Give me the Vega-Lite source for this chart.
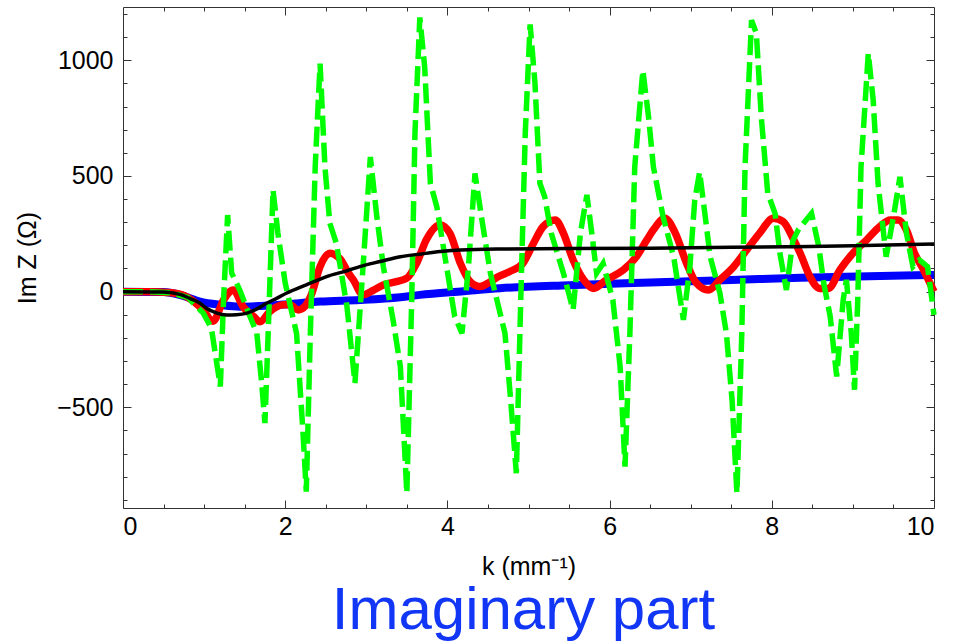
{
  "$schema": "https://vega.github.io/schema/vega-lite/v6.json",
  "width": 811,
  "height": 501,
  "autosize": {"type": "none"},
  "padding": {"left": 123, "top": 7, "right": 34, "bottom": 135},
  "background": "white",
  "config": {
    "view": {"stroke": "#333", "strokeWidth": 1},
    "font": "Liberation Sans",
    "axis": {"domain": false, "grid": false, "tickColor": "#333", "tickWidth": 1}
  },
  "title": {
    "text": "Imaginary part",
    "orient": "bottom",
    "anchor": "middle",
    "font": "Liberation Sans",
    "fontSize": 60,
    "fontWeight": "normal",
    "color": "#1236f5",
    "offset": 3,
    "dx": -5
  },
  "datasets": {
    "blue": [
      {"k": 0, "v": 0}, {"k": 0.5, "v": -2}, {"k": 0.7, "v": -14}, {"k": 0.95, "v": -43},
      {"k": 1.2, "v": -57}, {"k": 1.44, "v": -65}, {"k": 1.7, "v": -62}, {"k": 1.94, "v": -57},
      {"k": 2.43, "v": -43}, {"k": 2.92, "v": -36}, {"k": 3.42, "v": -24}, {"k": 3.66, "v": -14},
      {"k": 4.2, "v": 2}, {"k": 4.65, "v": 15}, {"k": 5.5, "v": 28}, {"k": 6.5, "v": 39},
      {"k": 7.5, "v": 50}, {"k": 8.35, "v": 60}, {"k": 9.2, "v": 67}, {"k": 10, "v": 72}
    ],
    "red": [
      {"k": 0, "v": 0}, {"k": 0.3, "v": 0}, {"k": 0.6, "v": -5}, {"k": 0.8, "v": -25},
      {"k": 0.99, "v": -80}, {"k": 1.11, "v": -128}, {"k": 1.24, "v": -36}, {"k": 1.36, "v": 7},
      {"k": 1.48, "v": -65}, {"k": 1.61, "v": -107}, {"k": 1.69, "v": -130}, {"k": 1.81, "v": -86},
      {"k": 1.98, "v": -57}, {"k": 2.06, "v": -57}, {"k": 2.16, "v": -79}, {"k": 2.24, "v": -65},
      {"k": 2.33, "v": -6}, {"k": 2.43, "v": 108}, {"k": 2.55, "v": 166}, {"k": 2.68, "v": 140},
      {"k": 2.78, "v": 80}, {"k": 2.84, "v": 51}, {"k": 2.96, "v": -14}, {"k": 3.09, "v": 7},
      {"k": 3.21, "v": 29}, {"k": 3.37, "v": 43}, {"k": 3.5, "v": 58}, {"k": 3.62, "v": 122},
      {"k": 3.74, "v": 224}, {"k": 3.91, "v": 288}, {"k": 4.03, "v": 253}, {"k": 4.16, "v": 122},
      {"k": 4.28, "v": 43}, {"k": 4.4, "v": 22}, {"k": 4.53, "v": 43}, {"k": 4.63, "v": 65},
      {"k": 4.77, "v": 87}, {"k": 4.93, "v": 122}, {"k": 5.06, "v": 208}, {"k": 5.18, "v": 281},
      {"k": 5.33, "v": 310}, {"k": 5.43, "v": 253}, {"k": 5.55, "v": 137}, {"k": 5.68, "v": 51},
      {"k": 5.8, "v": 14}, {"k": 5.96, "v": 51}, {"k": 6.17, "v": 94}, {"k": 6.33, "v": 151},
      {"k": 6.46, "v": 224}, {"k": 6.54, "v": 267}, {"k": 6.68, "v": 317}, {"k": 6.81, "v": 253},
      {"k": 6.95, "v": 122}, {"k": 7.07, "v": 37}, {"k": 7.22, "v": 7}, {"k": 7.36, "v": 51},
      {"k": 7.53, "v": 108}, {"k": 7.69, "v": 180}, {"k": 7.85, "v": 253}, {"k": 8.02, "v": 317},
      {"k": 8.14, "v": 303}, {"k": 8.27, "v": 224}, {"k": 8.35, "v": 166}, {"k": 8.47, "v": 65},
      {"k": 8.59, "v": 14}, {"k": 8.7, "v": 14}, {"k": 8.84, "v": 94}, {"k": 9.0, "v": 166},
      {"k": 9.17, "v": 224}, {"k": 9.33, "v": 281}, {"k": 9.46, "v": 310}, {"k": 9.56, "v": 310},
      {"k": 9.66, "v": 267}, {"k": 9.76, "v": 166}, {"k": 9.85, "v": 108}, {"k": 9.95, "v": 37},
      {"k": 10, "v": 0}
    ],
    "green": [
      {"k": 0, "v": 0}, {"k": 0.3, "v": 0}, {"k": 0.6, "v": -5}, {"k": 0.8, "v": -25},
      {"k": 0.99, "v": -93}, {"k": 1.09, "v": -158}, {"k": 1.2, "v": -410}, {"k": 1.24, "v": -36},
      {"k": 1.29, "v": 331}, {"k": 1.34, "v": 80}, {"k": 1.44, "v": 7}, {"k": 1.55, "v": -93},
      {"k": 1.65, "v": -180}, {"k": 1.71, "v": -395}, {"k": 1.75, "v": -568}, {"k": 1.79, "v": -180},
      {"k": 1.85, "v": 439}, {"k": 1.91, "v": 253}, {"k": 2.0, "v": 37}, {"k": 2.14, "v": -180},
      {"k": 2.22, "v": -612}, {"k": 2.26, "v": -864}, {"k": 2.31, "v": -180}, {"k": 2.37, "v": 539},
      {"k": 2.43, "v": 985}, {"k": 2.49, "v": 539}, {"k": 2.55, "v": 296}, {"k": 2.63, "v": 210},
      {"k": 2.76, "v": -60}, {"k": 2.86, "v": -395}, {"k": 2.96, "v": 108}, {"k": 3.05, "v": 582},
      {"k": 3.13, "v": 323}, {"k": 3.21, "v": 108}, {"k": 3.33, "v": -122}, {"k": 3.42, "v": -324},
      {"k": 3.5, "v": -870}, {"k": 3.56, "v": -36}, {"k": 3.6, "v": 684}, {"k": 3.66, "v": 1185},
      {"k": 3.72, "v": 970}, {"k": 3.79, "v": 469}, {"k": 3.87, "v": 366}, {"k": 3.99, "v": 108},
      {"k": 4.09, "v": -107}, {"k": 4.18, "v": -180}, {"k": 4.26, "v": 108}, {"k": 4.34, "v": 511},
      {"k": 4.42, "v": 323}, {"k": 4.53, "v": 80}, {"k": 4.61, "v": -36}, {"k": 4.71, "v": -180},
      {"k": 4.78, "v": -468}, {"k": 4.85, "v": -785}, {"k": 4.91, "v": 37}, {"k": 4.96, "v": 684},
      {"k": 5.02, "v": 1155}, {"k": 5.08, "v": 900}, {"k": 5.14, "v": 469}, {"k": 5.2, "v": 410},
      {"k": 5.28, "v": 253}, {"k": 5.43, "v": 80}, {"k": 5.55, "v": -79}, {"k": 5.64, "v": 253},
      {"k": 5.72, "v": 418}, {"k": 5.78, "v": 253}, {"k": 5.84, "v": 80}, {"k": 5.92, "v": 122},
      {"k": 6.04, "v": -36}, {"k": 6.13, "v": -324}, {"k": 6.19, "v": -756}, {"k": 6.25, "v": -180},
      {"k": 6.31, "v": 539}, {"k": 6.41, "v": 956}, {"k": 6.48, "v": 756}, {"k": 6.54, "v": 539},
      {"k": 6.66, "v": 323}, {"k": 6.79, "v": 151}, {"k": 6.91, "v": -122}, {"k": 6.99, "v": 108},
      {"k": 7.05, "v": 396}, {"k": 7.11, "v": 517}, {"k": 7.18, "v": 323}, {"k": 7.24, "v": 151},
      {"k": 7.36, "v": -6}, {"k": 7.44, "v": -180}, {"k": 7.51, "v": -468}, {"k": 7.57, "v": -870},
      {"k": 7.63, "v": -180}, {"k": 7.67, "v": 539}, {"k": 7.75, "v": 1173}, {"k": 7.81, "v": 1116},
      {"k": 7.87, "v": 756}, {"k": 7.95, "v": 425}, {"k": 8.04, "v": 338}, {"k": 8.1, "v": 166},
      {"k": 8.18, "v": 7}, {"k": 8.26, "v": 220}, {"k": 8.33, "v": 270}, {"k": 8.49, "v": 338},
      {"k": 8.58, "v": 193}, {"k": 8.64, "v": 37}, {"k": 8.72, "v": -107}, {"k": 8.8, "v": -367},
      {"k": 8.88, "v": -36}, {"k": 8.92, "v": 51}, {"k": 8.98, "v": -180}, {"k": 9.02, "v": -424},
      {"k": 9.06, "v": -36}, {"k": 9.1, "v": 539}, {"k": 9.19, "v": 1030}, {"k": 9.25, "v": 828},
      {"k": 9.31, "v": 469}, {"k": 9.41, "v": 151}, {"k": 9.5, "v": 323}, {"k": 9.58, "v": 496},
      {"k": 9.66, "v": 253}, {"k": 9.74, "v": 108}, {"k": 9.82, "v": 137}, {"k": 9.92, "v": 108},
      {"k": 10, "v": -100}
    ],
    "black": [
      {"k": 0, "v": 0}, {"k": 0.5, "v": -2}, {"k": 0.7, "v": -12}, {"k": 0.83, "v": -30},
      {"k": 0.95, "v": -50}, {"k": 1.03, "v": -72}, {"k": 1.15, "v": -92}, {"k": 1.28, "v": -101},
      {"k": 1.4, "v": -100}, {"k": 1.53, "v": -93}, {"k": 1.65, "v": -75}, {"k": 1.77, "v": -50},
      {"k": 1.9, "v": -28}, {"k": 2.02, "v": -6}, {"k": 2.26, "v": 29}, {"k": 2.51, "v": 65},
      {"k": 2.76, "v": 90}, {"k": 2.92, "v": 108}, {"k": 3.17, "v": 130}, {"k": 3.42, "v": 151},
      {"k": 3.66, "v": 162}, {"k": 3.91, "v": 173}, {"k": 4.16, "v": 180}, {"k": 4.65, "v": 184},
      {"k": 5.5, "v": 186}, {"k": 6.5, "v": 188}, {"k": 7.5, "v": 192}, {"k": 8.2, "v": 194},
      {"k": 9, "v": 198}, {"k": 10, "v": 206}
    ]
  },
  "layer": [
    {
      "mark": {"type": "rule", "color": "#222", "strokeWidth": 1},
      "encoding": {
        "x": {
          "datum": 0, "type": "quantitative",
          "scale": {"domain": [0, 10], "nice": false, "zero": false},
          "axis": {
            "orient": "top", "title": null, "labels": false, "ticks": true, "tickSize": -4,
            "values": [0.5,1,1.5,2.5,3,3.5,4.5,5,5.5,6.5,7,7.5,8.5,9,9.5]
          }
        },
        "x2": {"datum": 10},
        "y": {
          "datum": 0, "type": "quantitative",
          "scale": {"domain": [-935, 1230], "nice": false, "zero": false},
          "axis": {
            "orient": "right", "title": null, "labels": false, "ticks": true, "tickSize": -4,
            "values": [-900,-800,-700,-600,-400,-300,-200,-100,100,200,300,400,600,700,800,900,1100,1200]
          }
        }
      }
    },
    {
      "data": {"name": "blue"},
      "mark": {"type": "line", "color": "#0000ff", "strokeWidth": 8, "interpolate": "monotone"},
      "encoding": {
        "x": {
          "field": "k", "type": "quantitative",
          "axis": {
            "orient": "bottom", "title": "k (mm⁻¹)", "titleFont": "Liberation Sans", "titleFontSize": 25,
            "titleFontWeight": "normal", "titleColor": "black", "titlePadding": 15,
            "labelFont": "Liberation Sans", "labelFontSize": 25, "labelColor": "black", "labelPadding": 14,
            "format": "d", "ticks": true, "tickSize": -8,
            "values": [0, 2, 4, 6, 8, 10]
          }
        },
        "y": {
          "field": "v", "type": "quantitative",
          "axis": {
            "orient": "left", "title": "Im Z (Ω)", "titleFont": "Liberation Sans", "titleFontSize": 25,
            "titleFontWeight": "normal", "titleColor": "black", "titlePadding": 16,
            "labelFont": "Liberation Sans", "labelFontSize": 25, "labelColor": "black", "labelPadding": 18,
            "format": "d", "ticks": true, "tickSize": -8,
            "values": [-500, 0, 500, 1000]
          }
        }
      }
    },
    {
      "data": {"name": "red"},
      "mark": {"type": "line", "color": "#ff0000", "strokeWidth": 7.5, "interpolate": "monotone"},
      "encoding": {
        "x": {
          "field": "k", "type": "quantitative",
          "axis": {
            "orient": "bottom", "title": null, "labels": false, "ticks": true, "tickSize": -4,
            "values": [0.5,1,1.5,2.5,3,3.5,4.5,5,5.5,6.5,7,7.5,8.5,9,9.5]
          }
        },
        "y": {
          "field": "v", "type": "quantitative",
          "axis": {
            "orient": "left", "title": null, "labels": false, "ticks": true, "tickSize": -4,
            "values": [-900,-800,-700,-600,-400,-300,-200,-100,100,200,300,400,600,700,800,900,1100,1200]
          }
        }
      }
    },
    {
      "data": {"name": "green"},
      "mark": {"type": "line", "color": "#00ff00", "strokeWidth": 5.5, "strokeDash": [20, 7]},
      "encoding": {
        "x": {"field": "k", "type": "quantitative", "axis": null},
        "y": {"field": "v", "type": "quantitative", "axis": null}
      }
    },
    {
      "data": {"name": "black"},
      "mark": {"type": "line", "color": "#000000", "strokeWidth": 3.5, "interpolate": "monotone"},
      "encoding": {
        "x": {
          "field": "k", "type": "quantitative",
          "axis": {"orient": "top", "title": null, "labels": false, "ticks": true, "tickSize": -8, "values": [2, 4, 6, 8]}
        },
        "y": {
          "field": "v", "type": "quantitative",
          "axis": {"orient": "right", "title": null, "labels": false, "ticks": true, "tickSize": -8, "values": [-500, 0, 500, 1000]}
        }
      }
    }
  ],
  "resolve": {"axis": {"x": "independent", "y": "independent"}}
}
